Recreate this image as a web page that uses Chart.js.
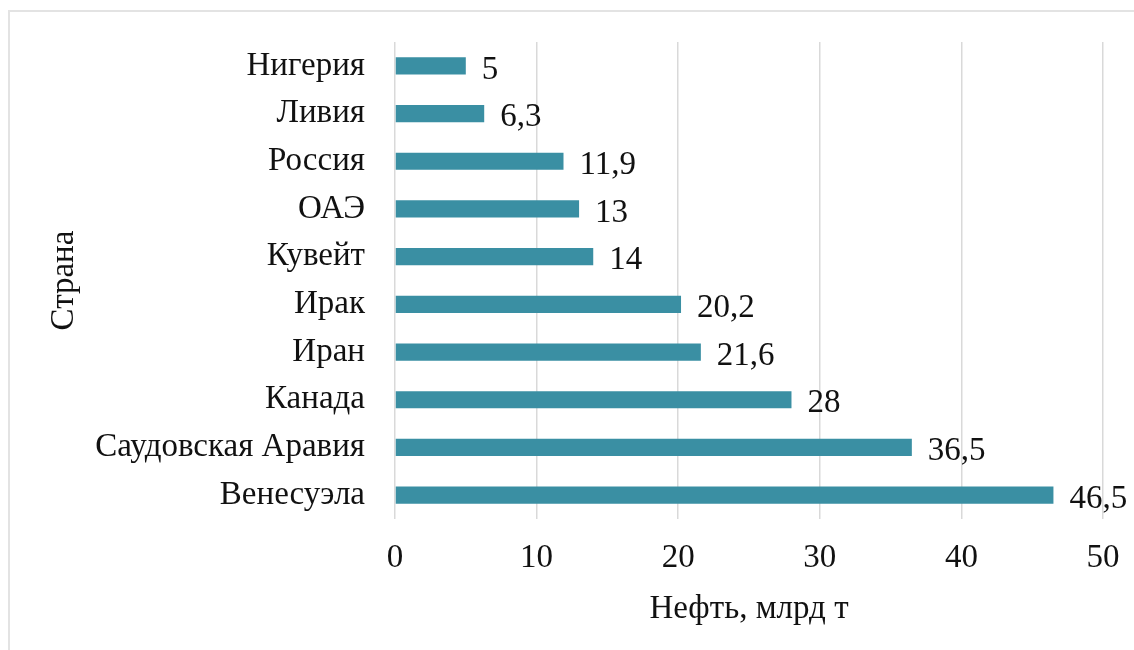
<!DOCTYPE html>
<html>
<head>
<meta charset="utf-8">
<script src="https://cdn.jsdelivr.net/npm/chart.js@4/dist/chart.umd.min.js"></script>
<style>
  body { margin: 0; background: #fff; overflow: hidden; }
  #wrap { position: relative; width: 1134px; height: 650px; }
  #frame {
    position: absolute; left: 8px; top: 10px; width: 1200px; height: 700px;
    border: 2px solid #e3e3e3; pointer-events: none;
  }
</style>
</head>
<body>
<div id="wrap">
  <canvas id="oilChart" width="1134" height="650"></canvas>
  <div id="frame"></div>
</div>
<script>
// Oil reserves by country, billion tonnes
const countries = [
  "Нигерия", "Ливия", "Россия", "ОАЭ", "Кувейт",
  "Ирак", "Иран", "Канада", "Саудовская Аравия", "Венесуэла"
];
const reserves = [5, 6.3, 11.9, 13, 14, 20.2, 21.6, 28, 36.5, 46.5];
const xTicks = [0, 10, 20, 30, 40, 50];

const FONT = "'Liberation Serif', 'Times New Roman', serif";
const TEXT = "#111";
const SIZE = 33;

// value labels after each bar, with comma decimals
const valueLabels = {
  id: "valueLabels",
  afterDatasetsDraw(chart) {
    const ctx = chart.ctx;
    const meta = chart.getDatasetMeta(0);
    ctx.save();
    ctx.font = SIZE + "px " + FONT;
    ctx.fillStyle = TEXT;
    ctx.textAlign = "left";
    ctx.textBaseline = "middle";
    meta.data.forEach((bar, i) => {
      const txt = String(reserves[i]).replace(".", ",");
      ctx.fillText(txt, bar.x + 16, bar.y + 4);
    });
    ctx.restore();
  },
};

new Chart(document.getElementById("oilChart"), {
  type: "bar",
  data: {
    labels: countries,
    datasets: [{
      data: reserves,
      backgroundColor: "#3a8fa3",
      barPercentage: 0.36,
      categoryPercentage: 1,
    }],
  },
  options: {
    indexAxis: "y",
    responsive: false,
    animation: false,
    layout: { padding: { left: 41, top: 42, right: 31, bottom: 17 } },
    plugins: { legend: { display: false }, tooltip: { enabled: false } },
    scales: {
      x: {
        min: 0,
        max: 50,
        afterBuildTicks(scale) {
          scale.ticks = xTicks.map((v) => ({ value: v }));
        },
        afterFit(scale) {
          scale.height = 114;
          scale.paddingLeft = 0;
          scale.paddingRight = 0;
        },
        grid: { color: "#d9d9d9", lineWidth: 1.5, drawTicks: false },
        border: { display: false },
        ticks: { color: TEXT, font: { family: FONT, size: SIZE }, padding: 20 },
        title: {
          display: true,
          text: "Нефть, млрд т",
          color: TEXT,
          font: { family: FONT, size: SIZE },
          padding: { top: 4, bottom: 4 },
        },
      },
      y: {
        afterFit(scale) {
          scale.width = 354;
          scale.paddingTop = 0;
          scale.paddingBottom = 0;
        },
        grid: { display: false, drawTicks: false },
        border: { display: false },
        ticks: { color: TEXT, font: { family: FONT, size: SIZE }, padding: 30 },
        title: {
          display: true,
          text: "Страна",
          color: TEXT,
          font: { family: FONT, size: SIZE },
          padding: { top: 4, bottom: 4 },
        },
      },
    },
  },
  plugins: [valueLabels],
});
</script>
</body>
</html>
